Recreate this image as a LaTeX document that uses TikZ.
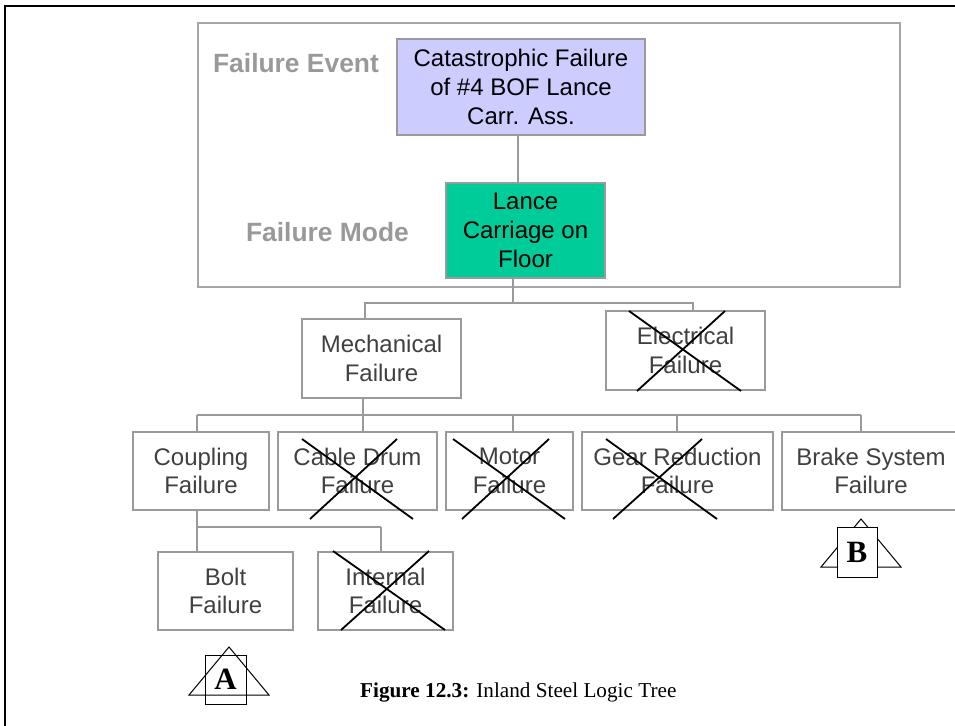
\documentclass[tikz,border=0pt]{standalone}
\usepackage{fontspec}
\setmainfont{Liberation Sans}
\newfontfamily\seriffont{Liberation Serif}
\usetikzlibrary{calc}
\definecolor{evfill}{HTML}{CCCCFF}
\definecolor{fmfill}{HTML}{00CC99}
\definecolor{framegray}{HTML}{A6A6A6}
\definecolor{boxgray}{HTML}{9A9A9A}
\definecolor{txtgray}{HTML}{404040}
\definecolor{lblgray}{HTML}{999999}
\begin{document}
\begin{tikzpicture}[x=1pt,y=-1pt,
  box/.style={draw=boxgray,line width=1.2pt,inner sep=0pt,align=center,text=txtgray,
    font=\fontsize{24}{28.8}\selectfont},
  topbox/.style={box,text=black},
  lbl/.style={text=lblgray,font=\fontsize{26.4}{30}\selectfont\bfseries,inner sep=0pt},
  conn/.style={draw=boxgray,line width=1.2pt},
  crossline/.style={draw=black,line width=1.8pt},
  symline/.style={draw=black,line width=1pt},
  symbox/.style={draw=black,line width=1pt,inner sep=0pt,minimum width=41pt,minimum height=49pt,
    font=\seriffont\fontsize{31}{31}\selectfont\bfseries}]
\useasboundingbox (0,0) rectangle (955,725);
% outer black frame (only top and left edges visible)
\draw[line width=2pt] (5,740) -- (5,5.7) -- (970,5.7);
% gray frame
\draw[framegray,line width=1.5pt] (198,23) rectangle (900,287);
% labels
\node[lbl] (lev) at (296,63) {Failure Event};
\node[lbl] (lfm) at (327.5,232) {Failure Mode};
% nodes
\node[topbox,fill=evfill,minimum width=248pt,minimum height=96pt] (ev) at (521,87)
  {Catastrophic Failure\\of \#4 BOF Lance\\Carr. Ass.};
\node[topbox,fill=fmfill,minimum width=159pt,minimum height=95pt] (fm) at (525.5,230.5)
  {Lance\\Carriage on\\Floor};
\node[box,minimum width=159pt,minimum height=79pt] (mech) at (381.5,358.5) {Mechanical\\Failure};
\node[box,minimum width=159pt,minimum height=79pt] (elec) at (685.5,350.5) {Electrical\\Failure};
\node[box,minimum width=136pt,minimum height=78pt] (coup) at (201,471) {Coupling\\Failure};
\node[box,minimum width=159pt,minimum height=78pt] (cable) at (357.5,471) {Cable Drum\\Failure};
\node[box,minimum width=127pt,minimum height=78pt] (motor) at (509.5,471) {Motor\\Failure};
\node[box,minimum width=191pt,minimum height=78pt] (gear) at (677.5,471) {Gear Reduction\\Failure};
\node[box,minimum width=178pt,minimum height=78pt] (brake) at (871,471) {Brake System\\Failure};
\node[box,minimum width=135pt,minimum height=78pt] (bolt) at (225.5,591) {Bolt\\Failure};
\node[box,minimum width=135pt,minimum height=78pt] (internal) at (385.5,591) {Internal\\Failure};
% connectors
\coordinate (a1) at (518,0);
\draw[conn] (ev.south -| a1) -- (fm.north -| a1);
\coordinate (b0) at (513,303);
\coordinate (bm) at (365,303);
\coordinate (be) at (693,303);
\draw[conn] (fm.south -| b0) -- (b0);
\draw[conn] (bm |- mech.north) -- (bm) -- (be) -- (be |- elec.north);
\coordinate (c0) at (363,415);
\coordinate (c1) at (197,415);
\coordinate (c2) at (363,415);
\coordinate (c3) at (513,415);
\coordinate (c4) at (677,415);
\coordinate (c5) at (861,415);
\draw[conn] (mech.south -| c0) -- (c0);
\draw[conn] (c1) -- (c5);
\draw[conn] (c1) -- (c1 |- coup.north);
\draw[conn] (c2) -- (c2 |- cable.north);
\draw[conn] (c3) -- (c3 |- motor.north);
\draw[conn] (c4) -- (c4 |- gear.north);
\draw[conn] (c5) -- (c5 |- brake.north);
\coordinate (d1) at (197,527);
\coordinate (d2) at (381,527);
\draw[conn] (coup.south -| d1) -- (d1) -- (d2);
\draw[conn] (d1) -- (d1 |- bolt.north);
\draw[conn] (d2) -- (d2 |- internal.north);
% crosses
\draw[crossline] (629,311) -- (741,391) (725,311) -- (637,391);
\draw[crossline] (302,439) -- (413,519) (397,439) -- (310,519);
\draw[crossline] (453,439) -- (565,519) (549,439) -- (462,519);
\draw[crossline] (606,439) -- (717,519) (702,439) -- (613,519);
\draw[crossline] (333,551) -- (445,630) (429,551) -- (341,630);
% symbol A
\draw[symline] (229,647) -- (189,695) -- (269,695) -- cycle;
\node[symbox] (symA) at (225.5,679.5) {A};
% symbol B
\draw[symline] (861,519) -- (821,567) -- (901,567) -- cycle;
\node[symbox,fill=white,minimum width=40pt,minimum height=50pt] (symB) at (857,552) {B};
% caption
\node[anchor=base west,inner sep=0pt,font=\seriffont\fontsize{21.2}{25}\selectfont] (cap) at (360,697)
  {\textbf{Figure 12.3:} Inland Steel Logic Tree};
\end{tikzpicture}
\end{document}
